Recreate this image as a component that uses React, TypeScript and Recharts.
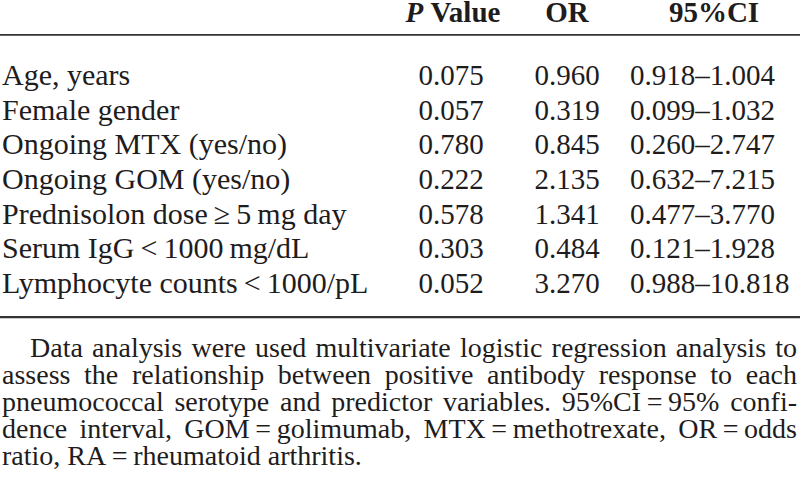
import React from 'react';
import { ComposedChart, XAxis, YAxis, Bar } from 'recharts';

// ---- Data ----
const rowLabels = [
  'Age, years',
  'Female gender',
  'Ongoing MTX (yes/no)',
  'Ongoing GOM (yes/no)',
  'Prednisolon dose\u2009\u2265\u20095\u2009mg day',
  'Serum IgG\u2009<\u20091000\u2009mg/dL',
  'Lymphocyte counts\u2009<\u20091000/pL',
];
const pValues = ['0.075', '0.057', '0.780', '0.222', '0.578', '0.303', '0.052'];
const oddsRatios = ['0.960', '0.319', '0.845', '2.135', '1.341', '0.484', '3.270'];
const ciLower = ['0.918', '0.099', '0.260', '0.632', '0.477', '0.121', '0.988'];
const ciUpper = ['1.004', '1.032', '2.747', '7.215', '3.770', '1.928', '10.818'];
const headerLabels = ['Value', 'OR', '95%CI'];
const footnoteLines = [
  'Data analysis were used multivariate logistic regression analysis to',
  'assess the relationship between positive antibody response to each',
  'pneumococcal serotype and predictor variables. 95%CI\u2009=\u200995% confi-',
  'dence interval, GOM\u2009=\u2009golimumab, MTX\u2009=\u2009methotrexate, OR\u2009=\u2009odds',
  'ratio, RA\u2009=\u2009rheumatoid arthritis.',
];

const tableData = rowLabels.map((label, i) => ({
  label,
  p: pValues[i],
  or: oddsRatios[i],
  orValue: parseFloat(oddsRatios[i]),
  ci: `${ciLower[i]}\u2013${ciUpper[i]}`,
}));

// ---- Layout / style ----
const FONT = '"Liberation Serif", "Times New Roman", serif';
const FS = 29;
const FS_LABEL = 30;
const FS_NOTE = 28;
const INK = '#1e1c1d';
const COL_LABEL_X = 2;
const COL_P_X = 451;
const COL_OR_X = 567;
const COL_CI_X = 630;
const HEAD_CI_X = 714;
const BASE_SHIFT = 9.5;

const RowTick = (props: any) => {
  const { y, payload } = props;
  const value = payload ? payload.value : undefined;
  const index = tableData.findIndex((r) => r.label === value);
  const row = tableData[index];
  if (!row || typeof y !== 'number') return <g />;
  const base = y + BASE_SHIFT;
  const isFirst = index === 0;
  const isLast = index === tableData.length - 1;
  return (
    <g>
      {isFirst && (
        <g>
          <text x={COL_P_X + 2} y={base - 63} textAnchor="middle" fontFamily={FONT} fontSize={FS} fontWeight="bold" fill={INK}>
            <tspan fontStyle="italic">P</tspan>
            <tspan>{'\u00a0' + headerLabels[0]}</tspan>
          </text>
          <text x={COL_OR_X} y={base - 63} textAnchor="middle" fontFamily={FONT} fontSize={FS} fontWeight="bold" fill={INK}>
            {headerLabels[1]}
          </text>
          <text x={HEAD_CI_X} y={base - 63} textAnchor="middle" fontFamily={FONT} fontSize={FS} fontWeight="bold" fill={INK}>
            {headerLabels[2]}
          </text>
          <line x1={0} x2={800} y1={base - 50} y2={base - 50} stroke="#333" strokeWidth={1.8} />
        </g>
      )}
      <text x={COL_LABEL_X} y={base} textAnchor="start" fontFamily={FONT} fontSize={FS_LABEL} fill={INK}>
        {row.label}
      </text>
      <text x={COL_P_X} y={base} textAnchor="middle" fontFamily={FONT} fontSize={FS} fill={INK}>
        {row.p}
      </text>
      <text x={COL_OR_X} y={base} textAnchor="middle" fontFamily={FONT} fontSize={FS} fill={INK}>
        {row.or}
      </text>
      <text x={COL_CI_X} y={base} textAnchor="start" fontFamily={FONT} fontSize={FS} fill={INK}>
        {row.ci}
      </text>
      {isLast && <line x1={0} x2={800} y1={base + 24} y2={base + 24} stroke="#333" strokeWidth={2.2} />}
    </g>
  );
};

export default function App() {
  return (
    <div style={{ position: 'absolute', left: 0, top: 0, width: 800, height: 487, background: '#fff', overflow: 'hidden' }}>
      <ComposedChart
        width={800}
        height={330}
        data={tableData}
        layout="vertical"
        margin={{ top: 58, right: 0, bottom: 29, left: 0 }}
      >
        <XAxis type="number" hide domain={[0, 100]} />
        <YAxis
          type="category"
          dataKey="label"
          width={1}
          axisLine={false}
          tickLine={false}
          tickSize={0}
          interval={0}
          tick={RowTick}
        />
        <Bar dataKey="orValue" fill="#ffffff" isAnimationActive={false} />
      </ComposedChart>
      <div
        style={{
          position: 'absolute',
          left: 2,
          top: 334,
          width: 795,
          fontFamily: FONT,
          fontSize: FS_NOTE,
          lineHeight: '27px',
          color: INK,
        }}
      >
        {footnoteLines.map((line, i) => {
          const last = i === footnoteLines.length - 1;
          return (
            <div
              key={i}
              style={{
                whiteSpace: 'nowrap',
                textAlign: last ? 'left' : 'justify',
                textAlignLast: last ? 'left' : 'justify',
                textIndent: i === 0 ? 28 : 0,
              } as React.CSSProperties}
            >
              {line}
            </div>
          );
        })}
      </div>
    </div>
  );
}
